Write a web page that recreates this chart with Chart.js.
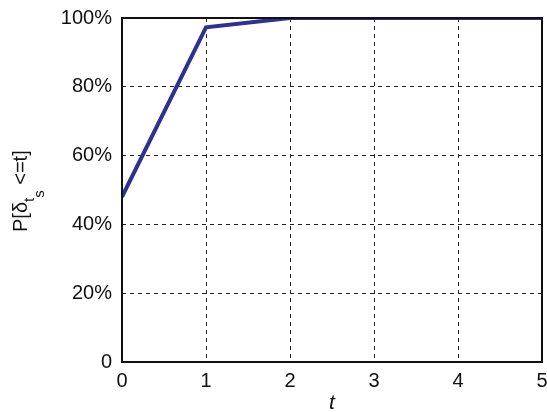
<!DOCTYPE html>
<html lang="en">
<head>
    <meta charset="UTF-8">
    <script src="https://cdn.jsdelivr.net/npm/chart.js"></script>
    <title>P[delta_ts <= t]</title>
    <style>
      html, body { margin: 0; padding: 0; background: #fff; }
      #wrap { width: 547px; height: 412px; }
    </style>
</head>
<body>
    <div id="wrap">
        <canvas id="myChart" width="547" height="412"></canvas>
    </div>
<script>
    // values
    const tValues = [0, 1, 2, 3, 4, 5];
    const probValues = [48, 97.3, 100, 100, 100, 100];
    const yTicks = [0, 20, 40, 60, 80, 100];

    const FONT = 'Liberation Sans, Arial, sans-serif';

    // frame + axis titles drawn by hand (subscripts in the y title)
    const extras = {
      id: 'extras',
      afterDraw(chart) {
        const ctx = chart.ctx;
        const a = chart.chartArea;
        ctx.save();
        ctx.strokeStyle = '#111';
        ctx.lineWidth = 2;
        ctx.setLineDash([]);
        ctx.strokeRect(a.left, a.top, a.right - a.left, a.bottom - a.top);

        // x title
        ctx.fillStyle = '#111';
        ctx.font = 'italic 21px ' + FONT;
        ctx.textAlign = 'center';
        ctx.textBaseline = 'alphabetic';
        ctx.fillText('t', (a.left + a.right) / 2, 409);

        // y title, rotated
        ctx.translate(27, 232);
        ctx.rotate(-Math.PI / 2);
        ctx.textAlign = 'left';
        let x = 0;
        ctx.font = '20px ' + FONT;
        ctx.fillText('P[δ', x, 0);
        x += ctx.measureText('P[δ').width;
        ctx.font = '15px ' + FONT;
        ctx.fillText('t', x, 7);
        x += ctx.measureText('t').width;
        ctx.fillText('s', x, 17);
        x += ctx.measureText('s').width;
        ctx.font = '20px ' + FONT;
        ctx.fillText(' <=t]', x, 0);
        ctx.restore();
      }
    };

    const ctx = document.getElementById('myChart');
    new Chart(ctx, {
      type: 'line',
      data: {
        datasets: [{
          data: tValues.map((t, i) => ({ x: t, y: probValues[i] })),
          borderColor: '#2E3192',
          borderWidth: 4,
          pointRadius: 0,
          tension: 0,
          fill: false
        }]
      },
      options: {
        responsive: false,
        animation: false,
        devicePixelRatio: 1,
        layout: { padding: { top: 18, right: 5, left: 0, bottom: 0 } },
        plugins: { legend: { display: false }, tooltip: { enabled: false } },
        scales: {
          x: {
            type: 'linear',
            min: 0, max: 5,
            afterFit(s) { s.height = 50; s.paddingLeft = 0; s.paddingRight = 0; },
            afterBuildTicks(s) { s.ticks = tValues.map(v => ({ value: v })); },
            grid: { color: '#222', lineWidth: 1, drawTicks: false },
            border: { display: false, dash: [4, 4] },
            ticks: { color: '#111', font: { family: FONT, size: 20 }, padding: 7, maxRotation: 0 }
          },
          y: {
            min: 0, max: 100,
            afterFit(s) { s.width = 122; s.paddingTop = 0; s.paddingBottom = 0; },
            afterBuildTicks(s) { s.ticks = yTicks.map(v => ({ value: v })); },
            grid: { color: '#222', lineWidth: 1, drawTicks: false },
            border: { display: false, dash: [4, 4] },
            ticks: {
              color: '#111', font: { family: FONT, size: 20 }, padding: 10,
              callback: v => v === 0 ? '0' : v + '%'
            }
          }
        }
      },
      plugins: [extras]
    });
</script>
</body>
</html>
